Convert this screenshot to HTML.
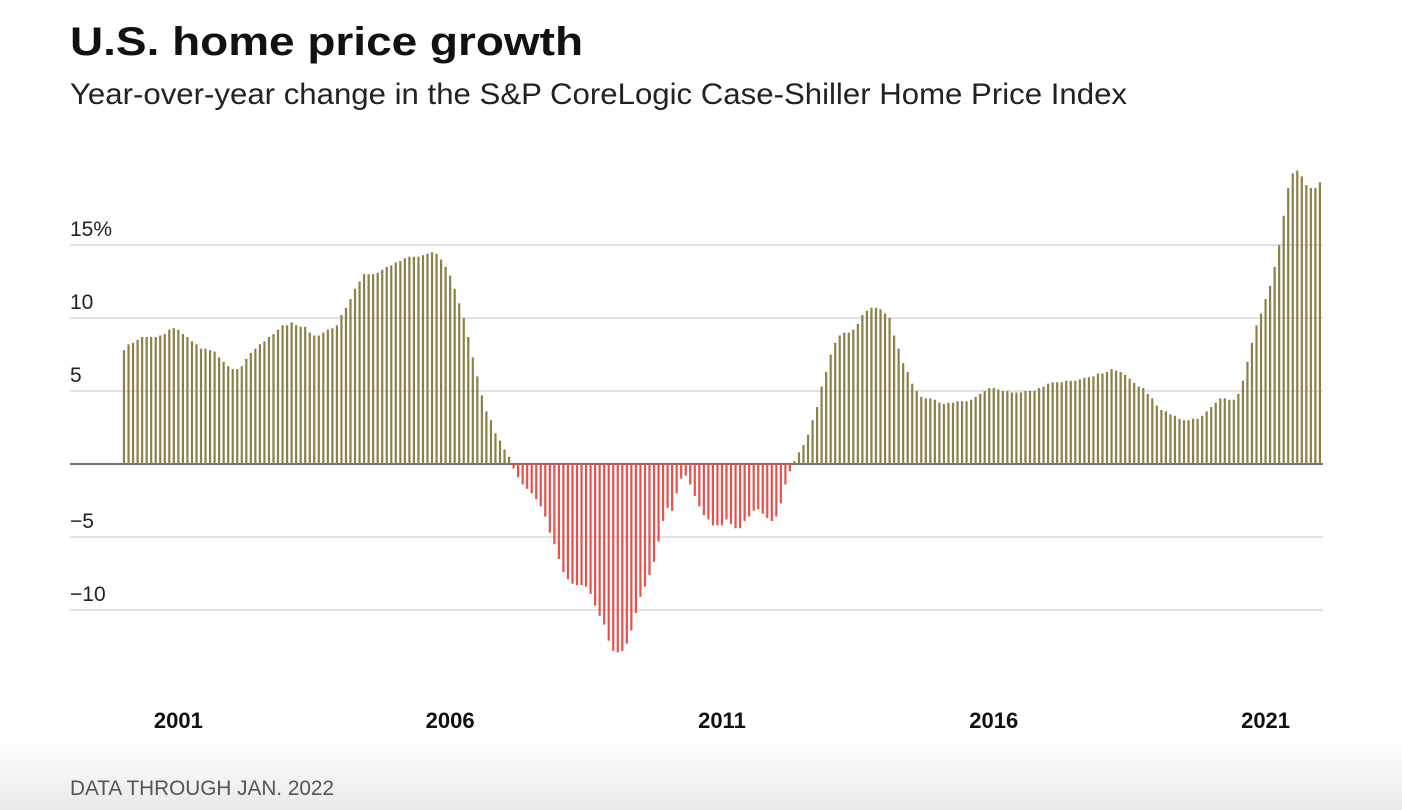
<!DOCTYPE html>
<html><head><meta charset="utf-8"><style>
html,body{margin:0;padding:0;background:#fff;}
svg{display:block;}
</style></head><body>
<svg width="1402" height="810" viewBox="0 0 1402 810" id="chart">
<defs><linearGradient id="fade" x1="0" y1="0" x2="0" y2="1"><stop offset="0" stop-color="#fff"/><stop offset="1" stop-color="#e9e9e9"/></linearGradient></defs>
<rect x="0" y="740" width="1402" height="70" fill="url(#fade)"/>
<text x="70" y="55" font-family="'Liberation Sans',sans-serif" font-weight="bold" font-size="40" textLength="513" lengthAdjust="spacingAndGlyphs" fill="#111">U.S. home price growth</text>
<text x="70" y="104" font-family="'Liberation Sans Narrow','Liberation Sans',sans-serif" font-size="30" textLength="1057" lengthAdjust="spacingAndGlyphs" fill="#222">Year-over-year change in the S&amp;P CoreLogic Case-Shiller Home Price Index</text>
<g id="grid"></g><g id="bars"></g><g id="labels"></g>
<text x="70" y="795" font-family="'Liberation Sans Narrow','Liberation Sans',sans-serif" font-size="21" textLength="264" lengthAdjust="spacingAndGlyphs" fill="#555">DATA THROUGH JAN. 2022</text>
</svg>
<script>
const startYear = 2000;
const yTickValues = [15, 10, 5, -5, -10];
const yTickLabels = ["15%", "10", "5", "\u22125", "\u221210"];
const xTickYears = [2001, 2006, 2011, 2016, 2021];
const yoyChange = [
7.8,8.2,8.3,8.5,8.7,8.7,8.7,8.7,8.8,8.9,9.2,9.3,
9.2,8.9,8.7,8.4,8.2,7.9,7.9,7.8,7.7,7.3,7.0,6.7,
6.5,6.5,6.7,7.2,7.6,7.9,8.2,8.4,8.7,8.9,9.2,9.5,
9.5,9.7,9.5,9.4,9.4,9.0,8.8,8.8,9.0,9.2,9.3,9.5,
10.2,10.7,11.3,12.0,12.5,13.0,13.0,13.0,13.1,13.3,13.5,13.6,
13.8,13.9,14.1,14.2,14.2,14.2,14.3,14.4,14.5,14.4,14.0,13.5,
12.9,12.0,11.0,10.0,8.7,7.3,6.0,4.7,3.6,3.0,2.1,1.6,
1.0,0.5,-0.3,-0.9,-1.4,-1.7,-2.0,-2.4,-2.9,-3.6,-4.7,-5.5,
-6.5,-7.4,-7.9,-8.2,-8.3,-8.3,-8.4,-8.9,-9.7,-10.4,-11.0,-12.1,
-12.8,-12.9,-12.8,-12.3,-11.4,-10.2,-9.1,-8.4,-7.6,-6.7,-5.3,-3.9,
-3.0,-3.2,-2.0,-1.0,-0.8,-1.4,-2.2,-2.9,-3.5,-3.8,-4.2,-4.2,
-4.2,-3.8,-4.1,-4.4,-4.4,-3.9,-3.6,-3.2,-3.1,-3.4,-3.7,-3.9,
-3.6,-2.7,-1.4,-0.5,0.2,0.8,1.3,2.0,3.0,3.9,5.3,6.3,
7.5,8.3,8.8,9.0,9.0,9.2,9.6,10.2,10.5,10.7,10.7,10.6,
10.3,10.0,8.8,7.9,6.9,6.3,5.5,5.0,4.6,4.5,4.5,4.4,
4.2,4.1,4.2,4.2,4.3,4.3,4.3,4.4,4.6,4.8,5.0,5.2,
5.2,5.1,5.0,5.0,4.9,4.9,4.9,5.0,5.0,5.0,5.2,5.3,
5.5,5.6,5.6,5.6,5.7,5.7,5.7,5.8,5.9,5.95,6.0,6.2,
6.2,6.3,6.5,6.4,6.3,6.1,5.85,5.55,5.3,5.2,4.8,4.5,
4.0,3.7,3.6,3.4,3.3,3.1,3.0,3.0,3.1,3.1,3.3,3.6,
3.9,4.2,4.5,4.5,4.4,4.4,4.8,5.7,7.0,8.3,9.5,10.3,
11.3,12.2,13.5,15.0,17.0,18.9,19.9,20.1,19.7,19.1,18.9,18.9,
19.3
];
const NS = "http://www.w3.org/2000/svg";
const x0 = 124, step = 4.53, yZero = 464, pxPerPct = 14.6;
function xScale(i){ return x0 + i * step; }
function yScale(v){ return yZero - v * pxPerPct; }
const grid = document.getElementById('grid');
const bars = document.getElementById('bars');
const labels = document.getElementById('labels');
yTickValues.forEach((v, k) => {
  const l = document.createElementNS(NS, 'line');
  l.setAttribute('x1', 70); l.setAttribute('x2', 1323);
  l.setAttribute('y1', yScale(v)); l.setAttribute('y2', yScale(v));
  l.setAttribute('stroke', '#d9d9d9'); l.setAttribute('stroke-width', '1.5');
  
  
  grid.appendChild(l);
  const t = document.createElementNS(NS, 'text');
  t.setAttribute('x', 70); t.setAttribute('y', yScale(v) - 9);
  t.setAttribute('font-family', "'Liberation Sans Narrow','Liberation Sans',sans-serif");
  t.setAttribute('font-size', '21'); t.setAttribute('fill', '#222');
  t.textContent = yTickLabels[k];
  
  
  labels.appendChild(t);
});
yoyChange.forEach((v, i) => {
  const r = document.createElementNS(NS, 'rect');
  const y = Math.min(yScale(v), yZero);
  r.setAttribute('x', xScale(i) - 1.1); r.setAttribute('width', 2.2);
  r.setAttribute('y', y); r.setAttribute('height', Math.abs(yScale(v) - yZero));
  r.setAttribute('fill', v >= 0 ? '#8c7f47' : '#e8504c');
  
  
  bars.appendChild(r);
});
const zl = document.createElementNS(NS, 'line');
zl.setAttribute('x1', 70); zl.setAttribute('x2', 1323);
zl.setAttribute('y1', yZero); zl.setAttribute('y2', yZero);
zl.setAttribute('stroke', '#444'); zl.setAttribute('stroke-width', '1.5');


grid.appendChild(zl);
xTickYears.forEach(yr => {
  const t = document.createElementNS(NS, 'text');
  t.setAttribute('x', xScale((yr - startYear) * 12));
  t.setAttribute('y', 728);
  t.setAttribute('text-anchor', 'middle');
  t.setAttribute('font-family', "'Liberation Sans Narrow','Liberation Sans',sans-serif");
  t.setAttribute('font-weight', 'bold');
  t.setAttribute('font-size', '22'); t.setAttribute('fill', '#111');
  t.textContent = yr;
  
  
  labels.appendChild(t);
});
</script>
</body></html>
